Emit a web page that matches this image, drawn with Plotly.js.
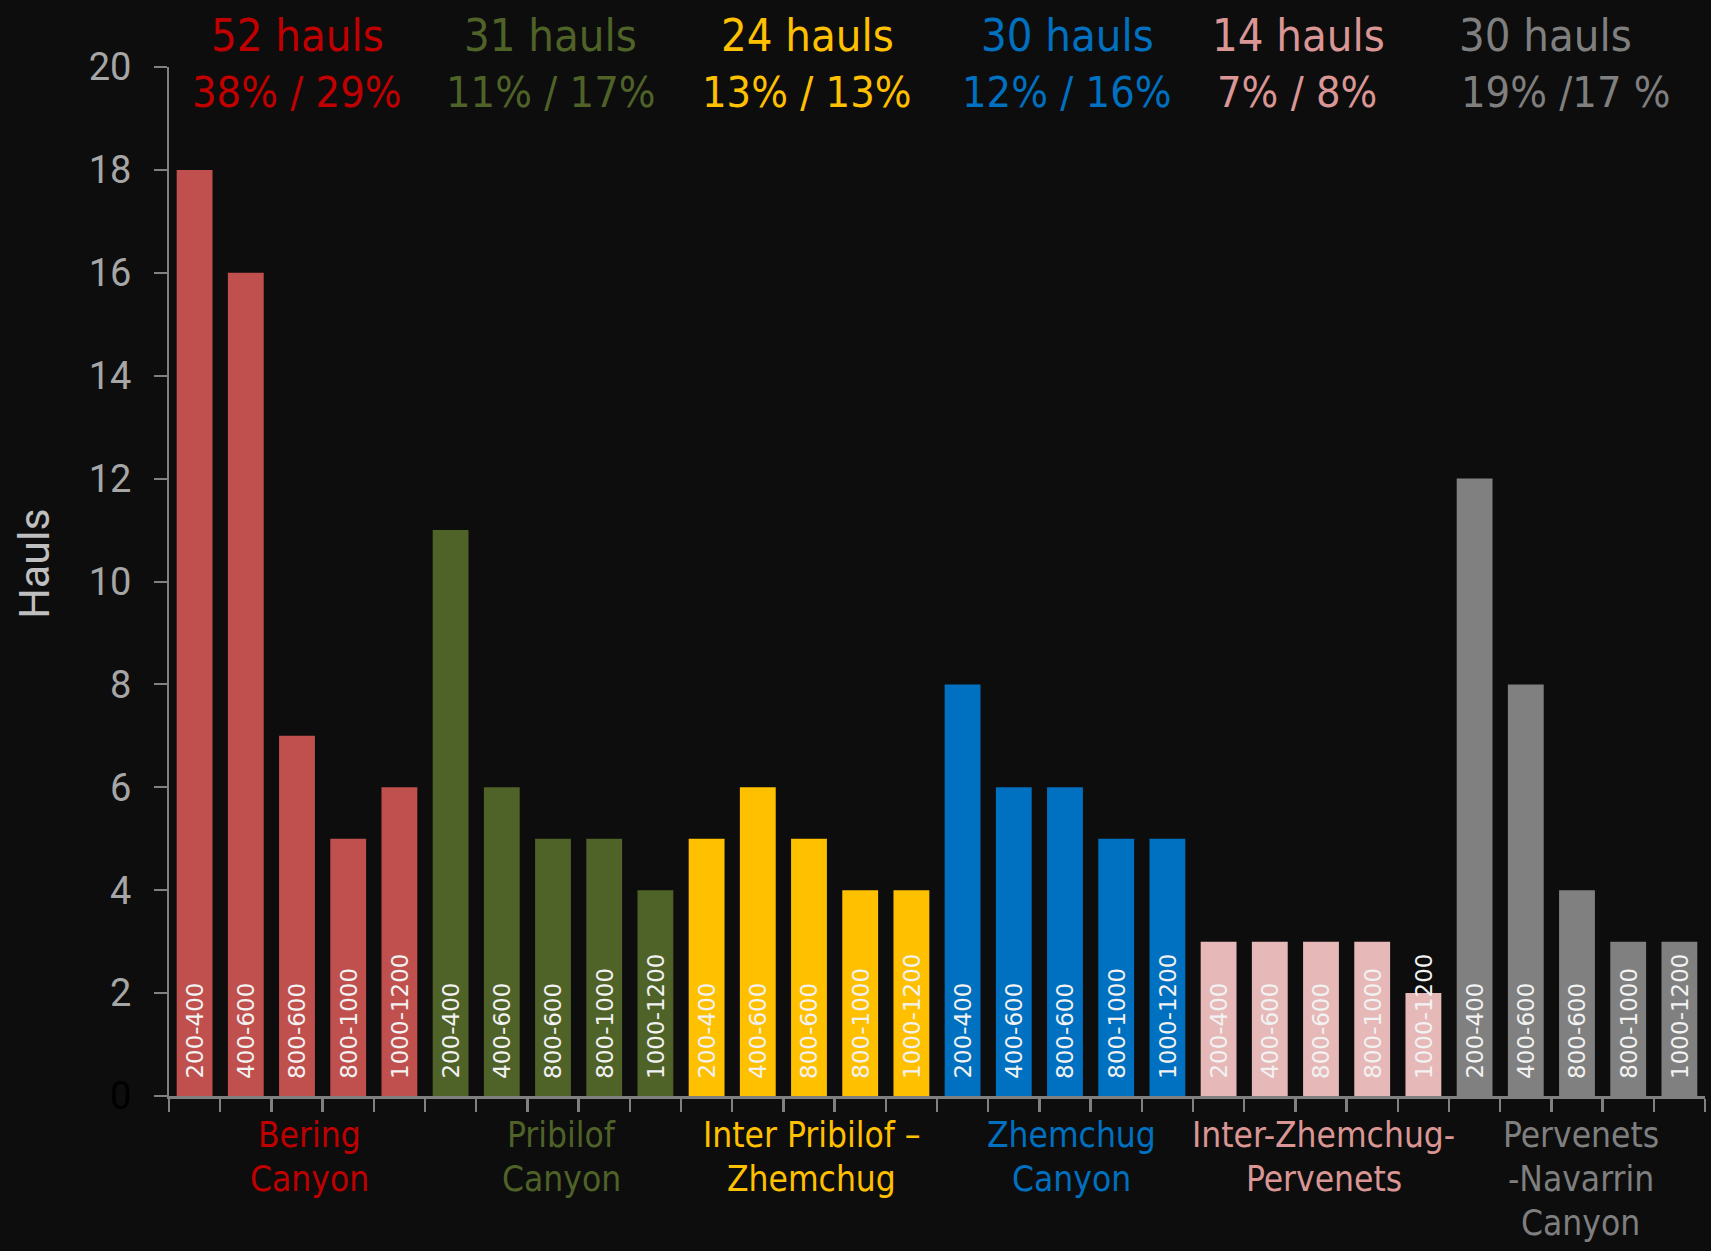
<!DOCTYPE html>
<html>
<head>
<meta charset="utf-8">
<script src="https://cdn.plot.ly/plotly-3.0.1.min.js"></script>
<style>
  html, body { margin: 0; padding: 0; background: #0d0d0d; }
  #chart { width: 1711px; height: 1251px; }
</style>
</head>
<body>
<div id="chart"></div>
<script>
// ---------------- DATA ----------------
const groups = ["Bering Canyon", "Pribilof Canyon", "Inter Pribilof – Zhemchug", "Zhemchug Canyon", "Inter-Zhemchug-Pervenets", "Pervenets-Navarrin Canyon"];
const groupLabelLines = [
  ["Bering", "Canyon"],
  ["Pribilof", "Canyon"],
  ["Inter Pribilof –", "Zhemchug"],
  ["Zhemchug", "Canyon"],
  ["Inter-Zhemchug-", "Pervenets"],
  ["Pervenets", "-Navarrin", "Canyon"]
];
const depthBands = ["200-400", "400-600", "800-600", "800-1000", "1000-1200"];
const beringHauls = [18, 16, 7, 5, 6];
const pribilofHauls = [11, 6, 5, 5, 4];
const interPribilofHauls = [5, 6, 5, 4, 4];
const zhemchugHauls = [8, 6, 6, 5, 5];
const interZhemchugHauls = [3, 3, 3, 3, 2];
const perventsHauls = [12, 8, 4, 3, 3];
const haulTotals = ["52 hauls", "31 hauls", "24 hauls", "30 hauls", "14 hauls", "30 hauls"];
const haulShares = ["38% / 29%", "11% / 17%", "13% / 13%", "12% / 16%", "7% / 8%", "19% /17 %"];
const yTickVals = [0, 2, 4, 6, 8, 10, 12, 14, 16, 18, 20];
const yTickText = ["0", "2", "4", "6", "8", "10", "12", "14", "16", "18", "20"];
const yAxisTitle = "Hauls";

// ---------------- STYLE ----------------
const seriesValues = [beringHauls, pribilofHauls, interPribilofHauls, zhemchugHauls, interZhemchugHauls, perventsHauls];
const barColors = ["#C0504D", "#4F6228", "#FFC000", "#0070C0", "#E6B9B8", "#808080"];
const textColors = ["#C00000", "#4F6228", "#FFC000", "#0070C0", "#D99694", "#7F7F7F"];
const narrow = "Liberation Sans Narrow, DejaVu Sans Condensed, Arial Narrow, sans-serif";
const headerX1 = [2.0, 6.96, 11.97, 17.04, 21.57, 26.39];
const headerX2 = [2.0, 6.96, 11.97, 17.04, 21.54, 26.79];
const groupLabelX = [2.25, 7.17, 12.05, 17.13, 22.05, 27.07];
const labelLineY = [-0.038, -0.081, -0.123];
const bg = "#0d0d0d";
const axisGray = "#808080";

const traces = [];
const annotations = [];
groups.forEach((g, gi) => {
  const xs = depthBands.map(d => g + " " + d);
  traces.push({
    type: "bar",
    name: g,
    x: xs,
    y: seriesValues[gi],
    marker: { color: barColors[gi], line: { width: 0 } },
    hoverinfo: "x+y",
    showlegend: false
  });
  xs.forEach((xc, di) => {
    annotations.push({
      x: xc, y: 0, xref: "x", yref: "y",
      text: depthBands[di],
      showarrow: false,
      textangle: -90,
      xanchor: "center", yanchor: "bottom",
      yshift: 15,
      font: { family: "DejaVu Sans, Verdana, sans-serif", size: 23, color: "#F2F2F2" }
    });
  });
  annotations.push({
    x: headerX1[gi], y: 1.031, xref: "x", yref: "paper",
    text: haulTotals[gi], showarrow: false,
    xanchor: "center", yanchor: "middle",
    font: { family: narrow, size: 45, color: textColors[gi] }
  });
  annotations.push({
    x: headerX2[gi], y: 0.9757, xref: "x", yref: "paper",
    text: haulShares[gi], showarrow: false,
    xanchor: "center", yanchor: "middle",
    font: { family: narrow, size: 43, color: textColors[gi] }
  });
  groupLabelLines[gi].forEach((line, li) => {
    annotations.push({
      x: groupLabelX[gi], y: labelLineY[li], xref: "x", yref: "paper",
      text: line, showarrow: false,
      xanchor: "center", yanchor: "middle",
      font: { family: narrow, size: 35, color: textColors[gi] }
    });
  });
});

// y-axis title, placed as a rotated annotation beside the axis
annotations.push({
  x: -0.088, y: 0.517, xref: "paper", yref: "paper",
  text: yAxisTitle, showarrow: false, textangle: -90,
  xanchor: "center", yanchor: "middle",
  font: { family: "Roboto, sans-serif", size: 43, color: "#BFBFBF" }
});

const tickTextStyled = yTickText.map((t, i) => i === 0 ? '<span style="color:#000000">' + t + '</span>' : t);

const layout = {
  width: 1711, height: 1251,
  paper_bgcolor: bg, plot_bgcolor: bg,
  margin: { l: 169, r: 6, t: 67, b: 155, pad: 0 },
  barmode: "overlay",
  bargap: 0.30,
  showlegend: false,
  xaxis: {
    type: "category",
    showticklabels: false,
    tickson: "boundaries",
    ticks: "outside", ticklen: 13, tickwidth: 2.5, tickcolor: axisGray,
    showline: true, linecolor: axisGray, linewidth: 3,
    showgrid: false, zeroline: false,
    automargin: false
  },
  yaxis: {
    range: [0, 20],
    tickvals: yTickVals, ticktext: tickTextStyled,
    ticks: "outside", ticklen: 13, tickwidth: 2, tickcolor: axisGray,
    ticklabelstandoff: 15,
    showline: true, linecolor: axisGray, linewidth: 2,
    showgrid: false, zeroline: false,
    tickfont: { family: "Roboto, sans-serif", size: 38, color: "#A6A6A6" },
    automargin: false
  },
  annotations: annotations
};

Plotly.newPlot("chart", traces, layout, { displayModeBar: false, staticPlot: true });
</script>
</body>
</html>
